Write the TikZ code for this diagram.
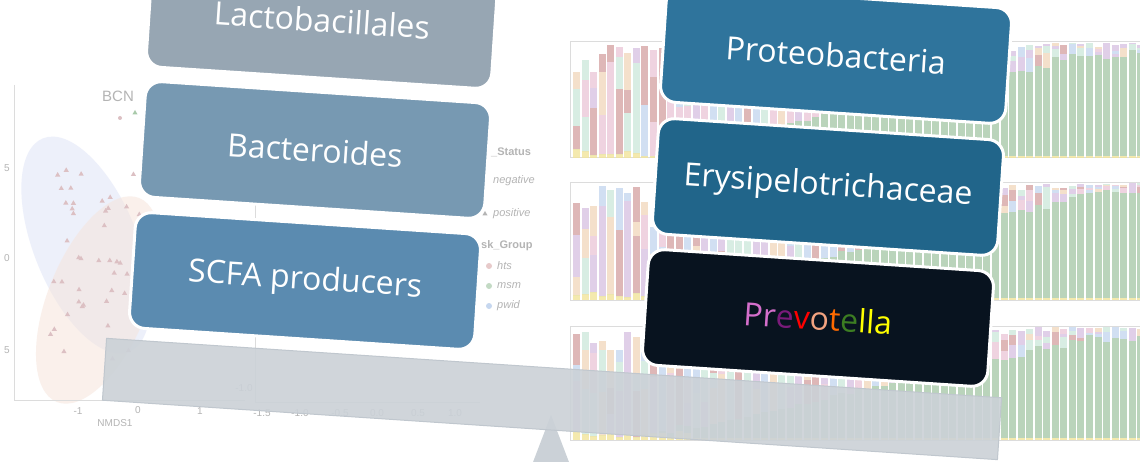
\documentclass[tikz,border=0pt]{standalone}
\usepackage{fontspec}
\setmainfont{Open Sans}
\newfontfamily\plotfont{Liberation Sans}
\newcommand\panfont{\fontsize{32}{36}\selectfont}

% box colours
\definecolor{lactocol}{HTML}{97A6B3}
\definecolor{bactcol}{HTML}{7799B2}
\definecolor{scfacol}{HTML}{5B8BB0}
\definecolor{proteocol}{HTML}{2F749C}
\definecolor{erysicol}{HTML}{21658A}
\definecolor{prevocol}{HTML}{08131F}
% beam
\definecolor{beamgray}{HTML}{CBD1D7}
\definecolor{beamedge}{HTML}{C0C7CE}
% faded background plots
\definecolor{axisgray}{HTML}{DCDCDC}
\definecolor{labelgray}{HTML}{B4B4B4}
\definecolor{nmdsblue}{HTML}{E2E7F8}
\definecolor{nmdsorange}{HTML}{F6E5DC}
\definecolor{ptcol}{HTML}{DCC0C3}
\definecolor{bargreen}{HTML}{A9CAAA}
\definecolor{baryellow}{HTML}{F2E49A}
\definecolor{barlav}{HTML}{D9C3E3}
\definecolor{barmint}{HTML}{CFE9DD}
\definecolor{barpink}{HTML}{EBC9D9}
\definecolor{barrose}{HTML}{D6A6A6}
\definecolor{barblue}{HTML}{C6D7EF}
\definecolor{barpeach}{HTML}{F2D9BF}
% letters of Prevotella
\definecolor{porchid}{HTML}{D46FCB}
\definecolor{ppurple}{HTML}{7A1B7A}
\definecolor{pred}{HTML}{FF0000}
\definecolor{psalmon}{HTML}{F2A380}
\definecolor{porange}{HTML}{FF6A00}
\definecolor{pgreen}{HTML}{3C7D22}
\definecolor{pyellow}{HTML}{FFFF00}

\pgfmathdeclarerandomlist{pastel}{{barlav}{barmint}{barpink}{barrose}{barblue}{barpeach}{barmint}{barlav}}

\begin{document}
\begin{tikzpicture}[x=1pt,y=-1pt,
    pan/.style={draw=white, line width=3pt, rounded corners=16pt,
      minimum width=346pt, minimum height=116pt, rotate=-3.8,
      text=white, font=\panfont, inner sep=0pt},
    beam/.style={fill=beamgray, fill opacity=0.9, draw=beamedge,
      line width=1pt, minimum width=897pt, minimum height=62pt,
      rotate=-3.8, inner sep=0pt},
    plotlabel/.style={text=labelgray, font=\plotfont\fontsize{10}{12}\selectfont, inner sep=0pt},
    legendlabel/.style={text=labelgray, font=\plotfont\itshape\fontsize{11}{13}\selectfont, inner sep=0pt, anchor=west},
    axisline/.style={draw=axisgray, line width=1pt}]

  \useasboundingbox (0,0) rectangle (1140,462);
  \clip (0,0) rectangle (1140,462);
  \fill[white] (0,0) rectangle (1140,462);

  % NMDS plot, faded
  \begin{scope}[shift={(86,245)},rotate=22]
    \fill[nmdsblue, fill opacity=0.6] (0,0) ellipse [x radius=52, y radius=115];
  \end{scope}
  \begin{scope}[shift={(98,300)},rotate=-22]
    \fill[nmdsorange, fill opacity=0.55] (0,0) ellipse [x radius=50, y radius=110];
  \end{scope}
  \pgfmathsetseed{11}
  \foreach \k in {1,...,42}{
    \pgfmathsetmacro\px{50+95*rnd}
    \pgfmathsetmacro\py{160+210*rnd}
    \fill[ptcol] (\px,\py) ++(0,-3) -- ++(2.6,4.5) -- ++(-5.2,0) -- cycle;
  }
  \fill[ptcol] (120,118) circle (2);
  \fill[bargreen] (135,113) ++(0,-3) -- ++(2.6,4.5) -- ++(-5.2,0) -- cycle;
  \draw[axisline] (14,85) -- (14,400) -- (245,400);
  \draw[axisline] (255,90) -- (255,402) -- (480,402);
  \node[plotlabel, font=\plotfont\fontsize{15}{17}\selectfont] (bcn) at (118,96) {BCN};
  \node[plotlabel] (ya) at (7,168) {5};
  \node[plotlabel] (yb) at (7,258) {0};
  \node[plotlabel] (yc) at (7,350) {5};
  \node[plotlabel] (xa) at (78,411) {-1};
  \node[plotlabel] (xb) at (138,410) {0};
  \node[plotlabel] (xc) at (200,411) {1};
  \node[plotlabel] (xd) at (262,413) {-1.5};
  \node[plotlabel] (xe) at (300,413) {-1.0};
  \node[plotlabel] (xf) at (340,413) {-0.5};
  \node[plotlabel] (xg) at (377,413) {0.0};
  \node[plotlabel] (xh) at (418,413) {0.5};
  \node[plotlabel] (xi) at (455,413) {1.0};
  \node[plotlabel] (yd) at (244,388) {-1.0};
  \node[plotlabel] (nmds) at (115,423) {NMDS1};
  \node[legendlabel, font=\plotfont\bfseries\fontsize{11}{13}\selectfont] (status) at (491,152) {\_Status};
  \node[legendlabel] (neg) at (493,181) {negative};
  \node[legendlabel] (pos) at (493,214) {positive};
  \fill[labelgray] (485,214) ++(0,-3) -- ++(2.6,4.5) -- ++(-5.2,0) -- cycle;
  \node[legendlabel, font=\plotfont\bfseries\fontsize{11}{13}\selectfont] (group) at (481,246) {sk\_Group};
  \node[legendlabel] (hts) at (497,266) {hts};
  \node[legendlabel] (msm) at (497,286) {msm};
  \node[legendlabel] (pwid) at (497,306) {pwid};
  \fill[barrose!60] (489,266) circle (3);
  \fill[bargreen!70] (489,286) circle (3);
  \fill[barblue] (489,306) circle (3);

  % stacked bar panels, faded
  \pgfmathsetseed{7}
  \foreach \ytop/\ybot in {42/158,183/300,326/440}{
    \draw[axisline] (570,\ytop) rectangle (1150,\ybot);
    \foreach \i in {0,...,66}{
      \pgfmathsetmacro\xa{573+\i*8.55}
      \pgfmathsetmacro\hh{\ybot-\ytop}
      \pgfmathsetmacro\fy{0.015+0.07*rnd*(\i<14)}
      \pgfmathsetmacro\fg{max(0,min(0.93,(\i-9)/55))*(0.9+0.1*rnd)}
      \pgfmathsetmacro\fa{(1-\fy-\fg)*(0.15+0.45*rnd)}
      \pgfmathsetmacro\fb{(1-\fy-\fg-\fa)*(0.2+0.5*rnd)}
      \pgfmathsetmacro\fc{(1-\fy-\fg-\fa-\fb)*(0.3+0.6*rnd)}
      \pgfmathsetmacro\ya{\ybot-\fy*\hh}
      \pgfmathsetmacro\yb{\ya-\fg*\hh}
      \pgfmathsetmacro\yc{\yb-\fa*\hh}
      \pgfmathsetmacro\yd{\yc-\fb*\hh}
      \pgfmathsetmacro\ye{\yd-\fc*\hh}
      \pgfmathrandomitem\ca{pastel}
      \pgfmathrandomitem\cb{pastel}
      \pgfmathrandomitem\cc{pastel}
      \begin{scope}[opacity=0.8]
        \fill[baryellow] (\xa,\ybot) rectangle (\xa+7,\ya);
        \fill[bargreen] (\xa,\ya) rectangle (\xa+7,\yb);
        \fill[\ca] (\xa,\yb) rectangle (\xa+7,\yc);
        \fill[\cb] (\xa,\yc) rectangle (\xa+7,\yd);
        \fill[\cc] (\xa,\yd) rectangle (\xa+7,\ye);
      \end{scope}
    }
  }

  % fulcrum and beam
  \fill[beamgray] (551,415) -- (530,470) -- (572,470) -- cycle;
  \node[beam] (beam) at (552,399) {};

  % left pan
  \node[pan, fill=lactocol] (lacto) at (322,20) {Lactobacillales};
  \node[pan, fill=bactcol] (bacter) at (315,150) {Bacteroides};
  \node[pan, fill=scfacol] (scfa) at (305,281) {SCFA producers};

  % right pan
  \node[pan, fill=proteocol] (proteo) at (836,55) {Proteobacteria};
  \node[pan, fill=erysicol] (erysi) at (828,187) {Erysipelotrichaceae};
  \node[pan, fill=prevocol] (prevo) at (818,318) {\textcolor{porchid}{Pr}\textcolor{ppurple}{e}\textcolor{pred}{v}\textcolor{psalmon}{o}\textcolor{porange}{t}\textcolor{pgreen}{e}\textcolor{pyellow}{lla}};
\end{tikzpicture}
\end{document}
